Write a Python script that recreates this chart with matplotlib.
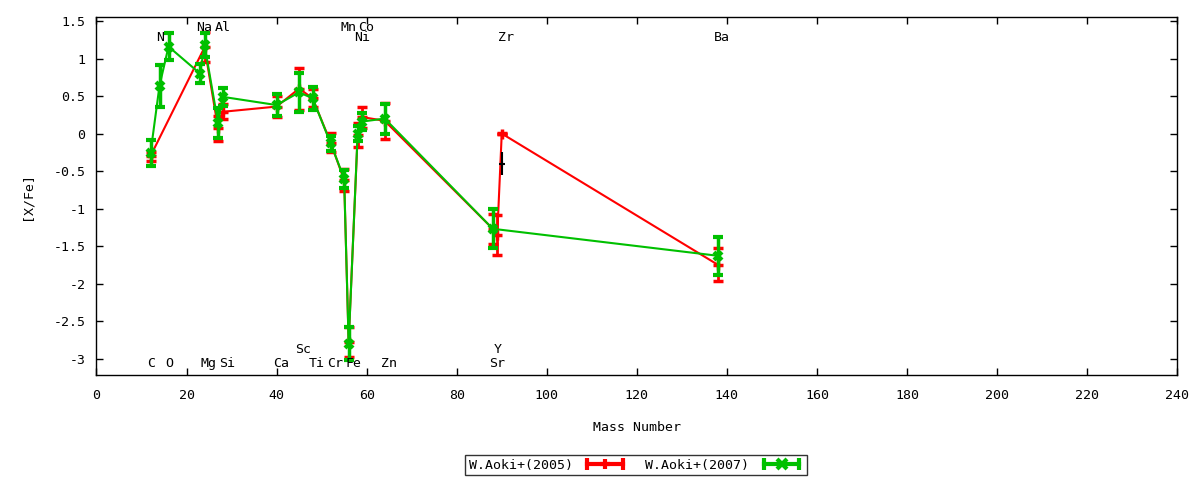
import matplotlib.pyplot as plt
from matplotlib.lines import Line2D
from matplotlib.legend_handler import HandlerLine2D, HandlerTuple

# W.Aoki+(2005)
mass_05 = [12, 24, 27, 28, 40, 45, 48, 52, 55, 56, 58, 59, 64, 88, 89, 90, 138]
xfe_05 = [-0.30, 1.15, 0.07, 0.29, 0.36, 0.60, 0.47, -0.12, -0.62, -2.78,
          -0.02, 0.22, 0.17, -1.27, -1.35, 0.00, -1.75]
err_05 = [0.06, 0.20, 0.17, 0.10, 0.14, 0.28, 0.12, 0.13, 0.15, 0.20,
          0.16, 0.14, 0.24, 0.20, 0.27, 0.01, 0.22]

# W.Aoki+(2007)
mass_07 = [12, 14, 16, 23, 24, 27, 28, 40, 45, 48, 52, 55, 56, 58, 59, 64, 88, 138]
xfe_07 = [-0.26, 0.64, 1.16, 0.80, 1.18, 0.14, 0.49, 0.38, 0.55, 0.47, -0.13,
          -0.60, -2.80, 0.00, 0.16, 0.20, -1.27, -1.63]
err_07 = [0.17, 0.28, 0.18, 0.13, 0.16, 0.20, 0.12, 0.15, 0.26, 0.15, 0.10,
          0.12, 0.22, 0.10, 0.11, 0.20, 0.26, 0.25]

# lone black point near Zr
mass_extra = [90]
xfe_extra = [-0.40]
err_extra = [0.15]

# element labels: (name, mass)
labels_top1 = [("Na", 23), ("Al", 27), ("Mn", 55), ("Co", 59)]
labels_top2 = [("N", 14), ("Ni", 58), ("Zr", 90), ("Ba", 138)]
labels_bot1 = [("C", 12), ("O", 16), ("Mg", 24), ("Si", 28), ("Ca", 40),
               ("Ti", 48), ("Cr", 52), ("Fe", 56), ("Zn", 64), ("Sr", 88)]
labels_bot2 = [("Sc", 45), ("Y", 89)]

red = "#ff0000"
green = "#00c000"

plt.rcParams["font.family"] = ["DejaVu Sans Mono", "DejaVu Sans"]
plt.rcParams["font.size"] = 9.5

fig = plt.figure(figsize=(12, 4.8), dpi=100)
ax = fig.add_axes([0.0804, 0.21875, 0.9006, 0.7459])

ax.errorbar(mass_05, xfe_05, yerr=err_05, color=red, lw=1.5, elinewidth=2,
            capsize=3.3, capthick=2.5, marker="+", ms=7, mew=2.5, zorder=2)
ax.errorbar(mass_07, xfe_07, yerr=err_07, color=green, lw=1.5, elinewidth=2.5,
            capsize=3.3, capthick=2.5, marker="x", ms=6, mew=3, zorder=3)
ax.errorbar(mass_extra, xfe_extra, yerr=err_extra, color="black", lw=1,
            elinewidth=1.5, capsize=0, marker="+", ms=4, mew=1.5, zorder=4)

for rows, yy in [(labels_top1, 1.41), (labels_top2, 1.28),
                 (labels_bot1, -3.06), (labels_bot2, -2.88)]:
    for name, m in rows:
        ax.text(m - 0.8, yy, name, ha="left", va="center")

ax.set_xlim(0, 240)
ax.set_ylim(-3.22, 1.555)
ax.set_xticks(range(0, 241, 20))
ax.set_yticks([1.5, 1, 0.5, 0, -0.5, -1, -1.5, -2, -2.5, -3])
ax.set_yticklabels(["1.5", "1", "0.5", "0", "-0.5", "-1", "-1.5", "-2", "-2.5", "-3"])
ax.tick_params(direction="in", top=True, right=True, length=5, width=1)
ax.tick_params(axis="x", pad=10)
ax.tick_params(axis="y", pad=8)
for s in ax.spines.values():
    s.set_linewidth(1)

ax.set_xlabel("Mass Number", labelpad=14)
ax.set_ylabel("[X/Fe]", labelpad=14)

# legend like gnuplot: text then a sample line with caps and a point
handles = []
hmap = {}
for c, mk in [(red, "+"), (green, "x")]:
    capline = Line2D([], [], color=c, lw=3, marker="|", ms=9, mew=3)
    pt = Line2D([], [], color=c, ls="none", marker=mk, ms=7, mew=3)
    hmap[capline] = HandlerLine2D(numpoints=2)
    hmap[pt] = HandlerLine2D(numpoints=1)
    handles.append((capline, pt))
hmap[tuple] = HandlerTuple(ndivide=1)

leg = fig.legend(handles, ["W.Aoki+(2005)", "W.Aoki+(2007)"], ncol=2,
                 loc="center", bbox_to_anchor=(0.53, 0.031), markerfirst=False,
                 handlelength=3.3, handletextpad=0.8, columnspacing=1.4,
                 frameon=True, fancybox=False, borderpad=0.25,
                 handler_map=hmap)
leg.get_frame().set_edgecolor("black")
leg.get_frame().set_linewidth(1)

fig.savefig("out.png", dpi=100)
